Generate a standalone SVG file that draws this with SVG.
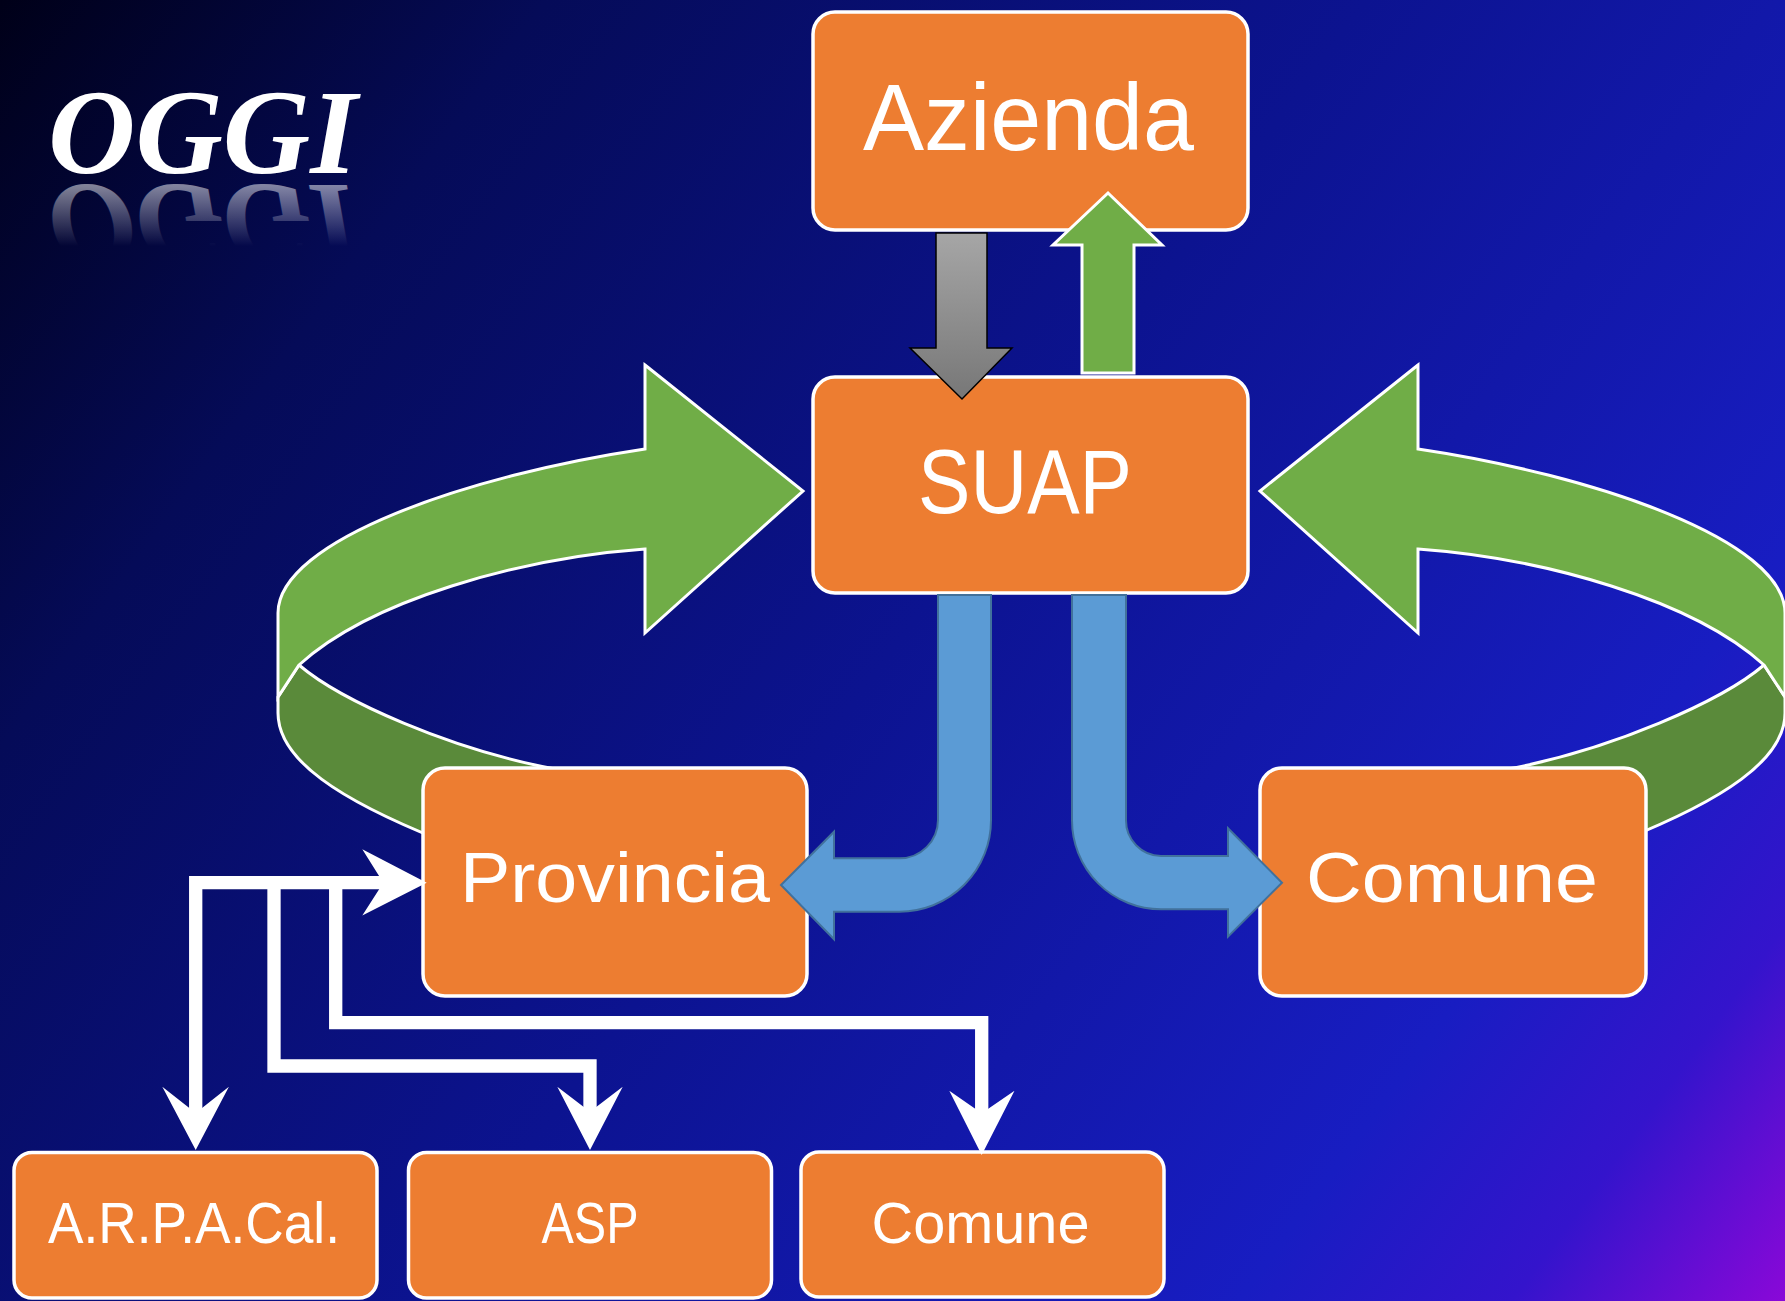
<svg xmlns="http://www.w3.org/2000/svg" width="1785" height="1301" viewBox="0 0 1785 1301">
<defs>
<linearGradient id="bg" x1="0" y1="0" x2="1785" y2="1301" gradientUnits="userSpaceOnUse">
<stop offset="0" stop-color="#000018"/>
<stop offset="0.2" stop-color="#050b58"/>
<stop offset="0.5" stop-color="#0c1390"/>
<stop offset="0.8" stop-color="#181dc2"/>
<stop offset="0.9" stop-color="#3414cc"/>
<stop offset="1" stop-color="#8a08d8"/>
</linearGradient>
<linearGradient id="grayGrad" x1="0" y1="233" x2="0" y2="399" gradientUnits="userSpaceOnUse">
<stop offset="0" stop-color="#a6a6a6"/>
<stop offset="1" stop-color="#777777"/>
</linearGradient>
<linearGradient id="refl" x1="0" y1="172" x2="0" y2="112" gradientUnits="userSpaceOnUse">
<stop offset="0" stop-color="#ffffff" stop-opacity="0.5"/>
<stop offset="1" stop-color="#ffffff" stop-opacity="0"/>
</linearGradient>
<style>
.box{fill:#ed7d31;stroke:#ffffff;stroke-width:3.5}
.lbl{fill:#ffffff;font-family:"Liberation Sans",Arial,sans-serif}
.rib{fill:#70ad47;stroke:#ffffff;stroke-width:3;stroke-linejoin:miter}
.ribd{fill:#5a8a3a;stroke:#ffffff;stroke-width:3}
.blue{fill:#5b9bd5;stroke:#41719c;stroke-width:2}
.wl{fill:none;stroke:#ffffff;stroke-width:13.3;stroke-linejoin:miter}
.wh{fill:#ffffff}
.logo{font-family:"Liberation Serif","Times New Roman",serif;font-style:italic;font-weight:bold;font-size:121px}
</style>
</defs>
<rect x="0" y="0" width="1785" height="1301" fill="url(#bg)"/>

<g id="logo">
<text class="logo" x="48" y="173" fill="#ffffff">OGGI</text>
<g transform="translate(0,358) scale(1,-1)">
<text class="logo" x="48" y="173" fill="url(#refl)">OGGI</text>
</g>
</g>

<g id="ribbons">
<g id="ribbon-left">
<path class="ribd" d="M299,665 C340,700 450,750 560,770 L640,785 L640,880 L440,840 C340,800 278,760 278,713 L278,697 Z"/>
<path class="rib" d="M645,365 L803,491 L645,633 L645,549 C520,558 370,600 299,665 L278,697 L278,613 C278,540 470,475 645,449 Z"/>
</g>
<g id="ribbon-right" transform="matrix(-1 0 0 1 2063 0)">
<path class="ribd" d="M299,665 C340,700 450,750 560,770 L640,785 L640,880 L440,840 C340,800 278,760 278,713 L278,697 Z"/>
<path class="rib" d="M645,365 L803,491 L645,633 L645,549 C520,558 370,600 299,665 L278,697 L278,613 C278,540 470,475 645,449 Z"/>
</g>
</g>

<g id="azienda">
<rect class="box" x="813" y="12" width="435" height="218" rx="22"/>
<text class="lbl" x="863" y="149.5" font-size="94" textLength="331" lengthAdjust="spacingAndGlyphs">Azienda</text>
</g>
<g id="suap">
<rect class="box" x="813" y="377" width="435" height="216" rx="22"/>
<text class="lbl" x="918" y="512.7" font-size="90" textLength="214" lengthAdjust="spacingAndGlyphs">SUAP</text>
</g>
<g id="provincia">
<rect class="box" x="423" y="768" width="384" height="228" rx="22"/>
<text class="lbl" x="460" y="902" font-size="70" textLength="310" lengthAdjust="spacingAndGlyphs">Provincia</text>
</g>
<g id="comune-mid">
<rect class="box" x="1260" y="768" width="386" height="228" rx="22"/>
<text class="lbl" x="1306" y="902" font-size="70" textLength="292" lengthAdjust="spacingAndGlyphs">Comune</text>
</g>
<g id="arpacal">
<rect class="box" x="14" y="1152.5" width="363" height="145.5" rx="18"/>
<text class="lbl" x="48" y="1243.3" font-size="58" textLength="292" lengthAdjust="spacingAndGlyphs">A.R.P.A.Cal.</text>
</g>
<g id="asp">
<rect class="box" x="408.5" y="1152.5" width="363" height="145.5" rx="18"/>
<text class="lbl" x="541.5" y="1243.3" font-size="58" textLength="97" lengthAdjust="spacingAndGlyphs">ASP</text>
</g>
<g id="comune-bottom">
<rect class="box" x="801" y="1152" width="363" height="145" rx="18"/>
<text class="lbl" x="871.5" y="1243.3" font-size="58" textLength="218" lengthAdjust="spacingAndGlyphs">Comune</text>
</g>

<g id="connectors">
<path d="M936,233 H987 V348 H1012 L962,399 L910,348 H936 Z" fill="url(#grayGrad)" stroke="#000000" stroke-width="1.5"/>
<path class="rib" d="M1082,373 V245 H1053 L1108,193 L1162,245 H1134 V373 Z"/>
<path class="blue" d="M938,595 V820 A38.5 38.5 0 0 1 899.5,858.3 H834 V831.7 L781,885 L834,939.3 V911.7 H899.5 A91.5 91.5 0 0 0 991,820 V595 Z"/>
<path class="blue" d="M1072,595 V820 A89 89 0 0 0 1161,909.3 H1228 V936.7 L1282,882.7 L1228,828.3 V856 H1161 A35.5 35.5 0 0 1 1126,820 V595 Z"/>
<path class="wl" d="M390,882.7 H195.7 V1115"/>
<path class="wl" d="M274,882.7 V1066 H590 V1113"/>
<path class="wl" d="M335.7,882.7 V1022.7 H981.7 V1115"/>
<polygon class="wh" points="426.7,882.7 362.3,849.3 383.3,882.7 362.3,915.5"/>
<polygon class="wh" points="195.7,1150 162.3,1086.7 195.7,1113 228.9,1086.7"/>
<polygon class="wh" points="590,1150 557.3,1086.7 590,1111.7 622.7,1086.7"/>
<polygon class="wh" points="981.7,1155 949.3,1090.7 981.7,1113.3 1014.5,1090.7"/>
</g>
</svg>
